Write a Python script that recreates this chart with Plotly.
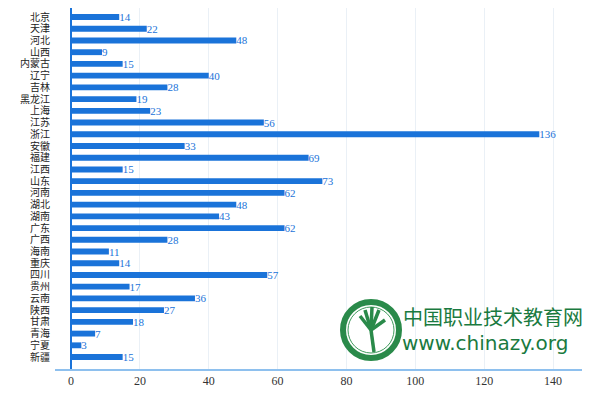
import plotly.graph_objects as go

provinces = ["北京", "天津", "河北", "山西", "内蒙古", "辽宁", "吉林", "黑龙江", "上海", "江苏",
             "浙江", "安徽", "福建", "江西", "山东", "河南", "湖北", "湖南", "广东", "广西",
             "海南", "重庆", "四川", "贵州", "云南", "陕西", "甘肃", "青海", "宁夏", "新疆"]
counts = [14, 22, 48, 9, 15, 40, 28, 19, 23, 56,
          136, 33, 69, 15, 73, 62, 48, 43, 62, 28,
          11, 14, 57, 17, 36, 27, 18, 7, 3, 15]
x_ticks = [0, 20, 40, 60, 80, 100, 120, 140]

W, H = 600, 395
OFF = 8  # page body offset
# desired plot area in screenshot pixels: x 55..582, y 8..369
ml = 55 - OFF
mt = 8 - OFF
mr = W - (582 - OFF)
mb = H - (369 - OFF)

fig = go.Figure()
fig.add_trace(go.Bar(
    y=provinces, x=counts, orientation="h",
    marker=dict(color="#1a73d9", line=dict(width=0)),
    width=0.5,
    text=[str(v) for v in counts], textposition="outside", constraintext="none",
    textfont=dict(family="Liberation Serif", size=11, color="#1a73d9"),
    cliponaxis=False,
))

pw, ph = W - ml - mr, H - mt - mb
def px(sx):
    return (sx - OFF - ml) / pw
def py(sy):
    return (H - mb - (sy - OFF)) / ph

# watermark logo (decorative)
cx, cy, R = 371, 330, 31
fig.add_shape(type="circle", xref="paper", yref="paper",
              x0=px(cx - R + 3), x1=px(cx + R - 3), y0=py(cy + R - 3), y1=py(cy - R + 3),
              line=dict(color="#2a8a4a", width=6), fillcolor="rgba(255,255,255,0.92)", layer="above")
fig.add_shape(type="circle", xref="paper", yref="paper",
              x0=px(cx - 23), x1=px(cx + 23), y0=py(cy + 23), y1=py(cy - 23),
              line=dict(color="#3f9a5c", width=1), fillcolor="rgba(0,0,0,0)", layer="above")
hand = [((374, 352), (371, 330)), ((371, 330), (360, 316)), ((371, 330), (365, 310)),
        ((371, 330), (372, 307)), ((371, 330), (379, 310)), ((371, 330), (385, 320))]
for (a, b) in hand:
    fig.add_shape(type="line", xref="paper", yref="paper",
                  x0=px(a[0]), y0=py(a[1]), x1=px(b[0]), y1=py(b[1]),
                  line=dict(color="#2a8a4a", width=3.5), layer="above")
fig.add_annotation(xref="paper", yref="paper", x=px(401), y=py(316),
                   xanchor="left", yanchor="middle",
                   text="中国职业技术教育网", showarrow=False,
                   font=dict(family="Noto Sans CJK SC", size=20, color="#1a7a40"))
fig.add_annotation(xref="paper", yref="paper", x=px(400), y=py(343),
                   xanchor="left", yanchor="middle",
                   text="www.chinazy.org", showarrow=False,
                   font=dict(family="DejaVu Sans", size=20, color="#1a7a40"))

fig.update_layout(
    width=W, height=H,
    margin=dict(l=ml, r=mr, t=mt, b=mb, pad=0),
    paper_bgcolor="white", plot_bgcolor="white",
    showlegend=False,
    xaxis=dict(range=[-4.65, 148.4], tickvals=x_ticks, ticktext=[str(t) for t in x_ticks],
               automargin=False,
               showgrid=True, gridcolor="#eaf0f6", gridwidth=1,
               zeroline=True, zerolinecolor="#1a73d9", zerolinewidth=2,
               showline=True, linecolor="#8ec0ee", linewidth=1.5,
               ticks="", tickfont=dict(family="Liberation Serif", size=12, color="#333333")),
    yaxis=dict(range=[30.02, -0.77], type="category",
               tickmode="array", tickvals=provinces, ticktext=provinces,
               automargin=False,
               showgrid=False, zeroline=False, showline=False, ticks="",
               ticklabelstandoff=4,
               tickfont=dict(family="Noto Sans CJK SC", size=10, color="#222222")),
)

fig.write_html("out.html")
